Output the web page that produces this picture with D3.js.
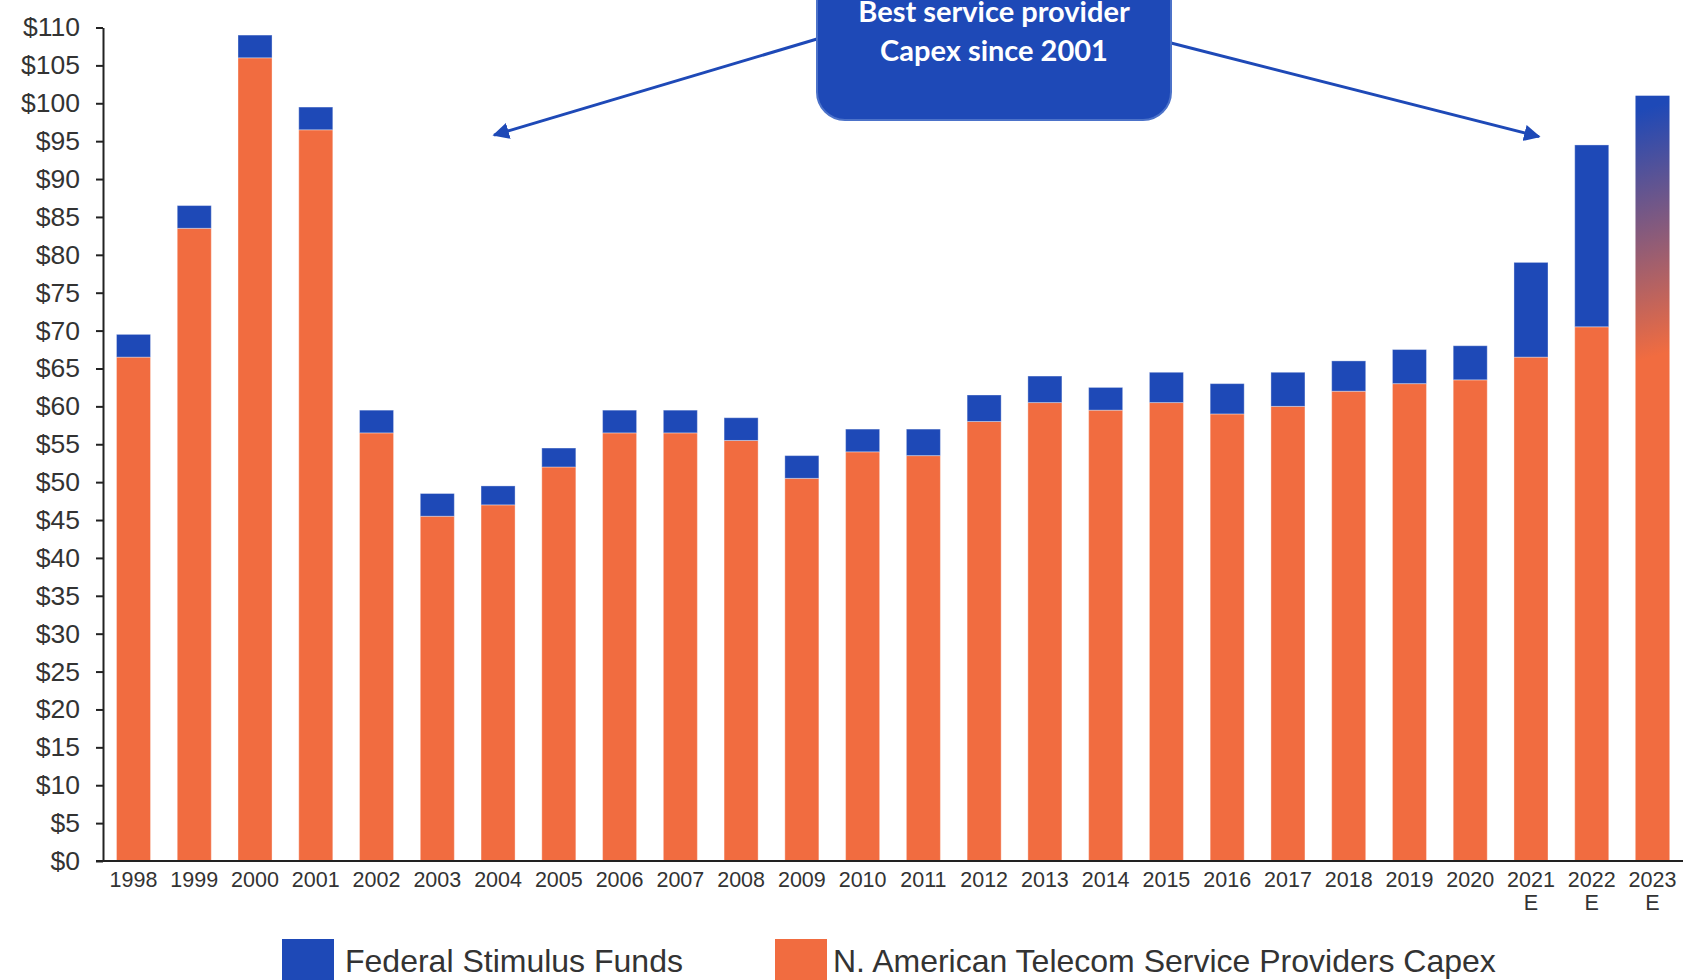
<!DOCTYPE html>
<meta charset="utf-8">
<style>
    body { margin: 0; background: #fff; }
    .axis text { font: 26.5px "Liberation Sans", Arial, sans-serif; fill: #333; }
    .xaxis text { font-size: 21.5px; }
    .axis path, .axis line { stroke: #222; stroke-width: 2; }
    .legend text { font: 32px "Liberation Sans", Arial, sans-serif; fill: #333; }
    .note text { font: bold 29px Lato, "Open Sans", sans-serif; fill: #fff; text-anchor: middle; }
</style>
<svg width="1690" height="980"></svg>
<script src="https://d3js.org/d3.v7.min.js"></script>
<script>
    // values in $B
    var years = ["1998", "1999", "2000", "2001", "2002", "2003", "2004", "2005", "2006", "2007", "2008",
        "2009", "2010", "2011", "2012", "2013", "2014", "2015", "2016", "2017", "2018", "2019", "2020",
        "2021 E", "2022 E", "2023 E"];
    var capex = [66.5, 83.5, 106, 96.5, 56.5, 45.5, 47, 52, 56.5, 56.5, 55.5, 50.5, 54, 53.5, 58, 60.5,
        59.5, 60.5, 59, 60, 62, 63, 63.5, 66.5, 70.5, 68];
    var stimulus = [3, 3, 3, 3, 3, 3, 2.5, 2.5, 3, 3, 3, 3, 3, 3.5, 3.5, 3.5, 3, 4, 4, 4.5, 4, 4.5, 4.5,
        12.5, 24, 33];
    var gradientYears = ["2023 E"];
    var yTicks = d3.range(0, 111, 5);
    var seriesNames = ["Federal Stimulus Funds", "N. American Telecom Service Providers Capex"];

    var blue = "#1E49B7", orange = "#F16C40";

    var svg = d3.select("svg");
    var data = years.map(function(y, i) { return { year: y, capex: capex[i], stimulus: stimulus[i] }; });

    var x = d3.scaleBand().domain(years).range([103, 1683]).paddingInner(0.44).paddingOuter(0.222);
    var y = d3.scaleLinear().domain([0, 110]).range([861, 27.5]);

    var defs = svg.append("defs");
    defs.append("marker").attr("id", "head")
        .attr("viewBox", "0 0 10 10").attr("refX", 9).attr("refY", 5)
        .attr("markerWidth", 5.5).attr("markerHeight", 5.5).attr("orient", "auto")
        .append("path").attr("d", "M0,0L10,5L0,10z").attr("fill", blue);

    var stack = d3.stack().keys(["capex", "stimulus"]);
    var layers = stack(data.filter(function(d) { return gradientYears.indexOf(d.year) < 0; }));

    svg.append("g").selectAll("g")
        .data(layers)
        .enter().append("g")
        .attr("fill", function(d) { return d.key === "capex" ? orange : blue; })
        .selectAll("rect")
        .data(function(d) { return d; })
        .enter().append("rect")
        .attr("x", function(d) { return x(d.data.year); })
        .attr("width", x.bandwidth())
        .attr("y", function(d) { return y(d[1]); })
        .attr("height", function(d) { return y(d[0]) - y(d[1]); })
        .attr("stroke", "#fff").attr("stroke-opacity", 0.35).attr("stroke-width", 1);

    // estimate bar: blue fading into orange
    var est = data.filter(function(d) { return gradientYears.indexOf(d.year) >= 0; });
    est.forEach(function(d, i) {
        var g = defs.append("linearGradient").attr("id", "est" + i)
            .attr("gradientUnits", "userSpaceOnUse")
            .attr("x1", x(d.year) - 20).attr("y1", y(d.capex + d.stimulus))
            .attr("x2", x(d.year) + 55).attr("y2", y(d.capex));
        g.append("stop").attr("offset", "0.08").attr("stop-color", blue);
        g.append("stop").attr("offset", "1").attr("stop-color", orange);
    });
    svg.append("g").selectAll("rect")
        .data(est)
        .enter().append("rect")
        .attr("x", function(d) { return x(d.year); })
        .attr("width", x.bandwidth())
        .attr("y", function(d) { return y(d.capex + d.stimulus); })
        .attr("height", function(d) { return y(0) - y(d.capex + d.stimulus); })
        .attr("fill", function(d, i) { return "url(#est" + i + ")"; });

    // axes
    svg.append("g").attr("class", "axis xaxis")
        .attr("transform", "translate(0," + y(0) + ")")
        .call(d3.axisBottom(x).tickSize(0).tickSizeOuter(0).tickPadding(11))
        .call(function(g) {
            g.select(".domain").attr("d", "M96,0H1683");
            g.selectAll("text").each(function(d) {
                var t = d3.select(this), parts = d.split(" ");
                t.text(null);
                parts.forEach(function(p, i) {
                    t.append("tspan").attr("x", 0).attr("dy", i ? "1.05em" : "0.71em").text(p);
                });
            });
        });

    svg.append("g").attr("class", "axis")
        .attr("transform", "translate(103,0)")
        .call(d3.axisLeft(y).tickValues(yTicks).tickSize(7).tickSizeOuter(0).tickPadding(16)
            .tickFormat(function(d) { return "$" + d; }));

    // legend
    var legend = svg.append("g").attr("class", "legend");
    var lx = [282, 775];
    seriesNames.forEach(function(name, i) {
        legend.append("rect").attr("x", lx[i]).attr("y", 939).attr("width", 52).attr("height", 41)
            .attr("fill", i ? orange : blue);
        legend.append("text").attr("x", lx[i] + (i ? 58 : 63)).attr("y", 972).text(name);
    });

    // callout
    var note = svg.append("g").attr("class", "note");
    note.append("line").attr("x1", 817).attr("y1", 39)
        .attr("x2", x("2004") + x.bandwidth() / 2 - 4).attr("y2", y(95.8))
        .attr("stroke", blue).attr("stroke-width", 3).attr("marker-end", "url(#head)");
    note.append("line").attr("x1", 1171).attr("y1", 43)
        .attr("x2", x("2021 E") + x.bandwidth() / 2 + 8).attr("y2", y(95.6))
        .attr("stroke", blue).attr("stroke-width", 3).attr("marker-end", "url(#head)");
    note.append("rect").attr("x", 817).attr("y", -40).attr("width", 354).attr("height", 160)
        .attr("rx", 28).attr("fill", blue).attr("stroke", "#4C72C9").attr("stroke-width", 2);
    note.append("text").attr("x", 994).attr("y", 22).text("Best service provider");
    note.append("text").attr("x", 994).attr("y", 61).text("Capex since 2001");
</script>
